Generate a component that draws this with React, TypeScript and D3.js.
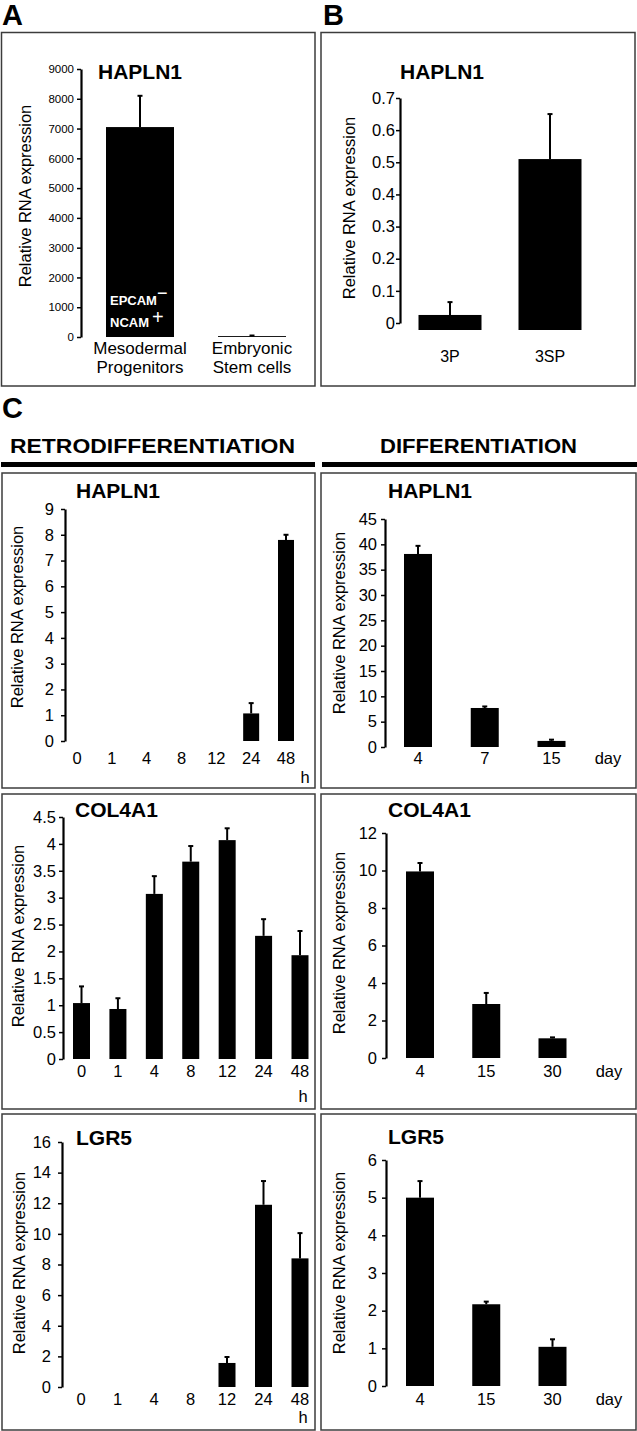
import { useEffect, useRef } from 'react';
import * as d3 from 'd3';

// ---- Panel A: HAPLN1, mesodermal progenitors vs ES cells
const aCategories = ['Mesodermal|Progenitors', 'Embryonic|Stem cells'];
const aValues = [7050, 30];
const aErrors = [1050, 20];
const aTicks = [0, 1000, 2000, 3000, 4000, 5000, 6000, 7000, 8000, 9000];

// ---- Panel B: HAPLN1, 3P vs 3SP
const bCategories = ['3P', '3SP'];
const bValues = [0.025, 0.51];
const bErrors = [0.04, 0.14];
const bTicks = [0, 0.1, 0.2, 0.3, 0.4, 0.5, 0.6, 0.7];

// ---- Panel C: retrodifferentiation (hours)
const retroHours = ['0', '1', '4', '8', '12', '24', '48'];
const retroHapln1 = [0, 0, 0, 0, 0, 1.07, 7.8];
const retroHapln1Err = [0, 0, 0, 0, 0, 0.4, 0.2];
const retroHapln1Ticks = [0, 1, 2, 3, 4, 5, 6, 7, 8, 9];
const retroCol4a1 = [1.04, 0.93, 3.07, 3.67, 4.07, 2.29, 1.93];
const retroCol4a1Err = [0.31, 0.2, 0.33, 0.29, 0.22, 0.31, 0.45];
const retroCol4a1Ticks = [0, 0.5, 1, 1.5, 2, 2.5, 3, 3.5, 4, 4.5];
const retroLgr5 = [0, 0, 0, 0, 1.57, 11.9, 8.4];
const retroLgr5Err = [0, 0, 0, 0, 0.39, 1.55, 1.65];
const retroLgr5Ticks = [0, 2, 4, 6, 8, 10, 12, 14, 16];

// ---- Panel C: differentiation (days)
const diffHapln1Days = ['4', '7', '15'];
const diffHapln1 = [38.1, 7.7, 1.2];
const diffHapln1Err = [1.6, 0.3, 0.25];
const diffHapln1Ticks = [0, 5, 10, 15, 20, 25, 30, 35, 40, 45];
const diffDays = ['4', '15', '30'];
const diffCol4a1 = [9.95, 2.88, 1.05];
const diffCol4a1Err = [0.45, 0.59, 0.05];
const diffCol4a1Ticks = [0, 2, 4, 6, 8, 10, 12];
const diffLgr5 = [5.0, 2.17, 1.04];
const diffLgr5Err = [0.44, 0.07, 0.2];
const diffLgr5Ticks = [0, 1, 2, 3, 4, 5, 6];

const FONT = "'Liberation Sans', Arial, sans-serif";
const YLABEL = 'Relative RNA expression';

const panels = [
  {
    title: 'HAPLN1', categories: aCategories, values: aValues, errors: aErrors, ticks: aTicks,
    box: [1.5, 32.5, 315, 386], axisX: 81, yRange: [337, 69], xRange: [140, 252], bw: 68,
    tickPad: 3, tickFont: 11.5, tickFamily: "'Liberation Sans Narrow', 'Liberation Sans', sans-serif",
    labelY: 354, labelFont: 17, lineH: 18.5, titleX: 98, titleY: 79, ylabX: 25, ylabY: 196, ext: 0,
  },
  {
    title: 'HAPLN1', categories: bCategories, values: bValues, errors: bErrors, ticks: bTicks,
    box: [321, 32.5, 635, 386], axisX: 400, yRange: [323, 98], xRange: [450, 550], bw: 63,
    tickPad: 1, tickFont: 16.5, labelY: 362, labelFont: 16, titleX: 400, titleY: 79, ylabX: 349, ylabY: 208, ext: 7,
  },
  {
    title: 'HAPLN1', categories: retroHours, values: retroHapln1, errors: retroHapln1Err, ticks: retroHapln1Ticks,
    box: [2, 473, 315, 788], axisX: 65, yRange: [741, 509], xRange: [77, 286], bw: 16,
    tickPad: 7, tickFont: 16.5, labelY: 764, labelFont: 16.5, unit: 'h', unitX: 305, unitY: 783,
    titleX: 76, titleY: 498, ylabX: 17, ylabY: 617, ext: 0,
  },
  {
    title: 'COL4A1', categories: retroHours, values: retroCol4a1, errors: retroCol4a1Err, ticks: retroCol4a1Ticks,
    box: [2, 794, 315, 1109], axisX: 63, yRange: [1059, 817], xRange: [81.5, 300], bw: 17,
    tickPad: 3, tickFont: 16.5, labelY: 1077, labelFont: 16.5, unit: 'h', unitX: 303, unitY: 1102,
    titleX: 75, titleY: 817, ylabX: 18, ylabY: 936, ext: 0,
  },
  {
    title: 'LGR5', categories: retroHours, values: retroLgr5, errors: retroLgr5Err, ticks: retroLgr5Ticks,
    box: [2, 1114, 315, 1430], axisX: 62, yRange: [1387, 1142], xRange: [81, 300], bw: 17,
    tickPad: 7, tickFont: 16.5, labelY: 1405, labelFont: 16.5, unit: 'h', unitX: 303, unitY: 1423,
    titleX: 76, titleY: 1145, ylabX: 19, ylabY: 1263, ext: 0,
  },
  {
    title: 'HAPLN1', categories: diffHapln1Days, values: diffHapln1, errors: diffHapln1Err, ticks: diffHapln1Ticks,
    box: [321, 473, 636, 788], axisX: 385, yRange: [747, 519], xRange: [418, 551.5], bw: 28,
    tickPad: 4, tickFont: 16.5, labelY: 764, labelFont: 16.5, unit: 'day', unitX: 608, unitY: 764,
    titleX: 388, titleY: 498, ylabX: 339, ylabY: 623, ext: 0,
  },
  {
    title: 'COL4A1', categories: diffDays, values: diffCol4a1, errors: diffCol4a1Err, ticks: diffCol4a1Ticks,
    box: [321, 794, 636, 1109], axisX: 386, yRange: [1058, 833], xRange: [420, 552.5], bw: 28,
    tickPad: 5, tickFont: 16.5, labelY: 1077, labelFont: 16.5, unit: 'day', unitX: 609, unitY: 1077,
    titleX: 388, titleY: 817, ylabX: 339, ylabY: 943, ext: 0,
  },
  {
    title: 'LGR5', categories: diffDays, values: diffLgr5, errors: diffLgr5Err, ticks: diffLgr5Ticks,
    box: [321, 1114, 636, 1430], axisX: 386, yRange: [1386, 1160], xRange: [420, 552.5], bw: 28,
    tickPad: 5, tickFont: 16.5, labelY: 1405, labelFont: 16.5, unit: 'day', unitX: 609, unitY: 1405,
    titleX: 388, titleY: 1144, ylabX: 339, ylabY: 1263, ext: 0,
  },
];

function drawPanel(root: any, p: any) {
  const g = root.append('g');
  const [bx0, by0, bx1, by1] = p.box;

  // frame
  g.append('rect')
    .attr('x', bx0).attr('y', by0)
    .attr('width', bx1 - bx0).attr('height', by1 - by0)
    .attr('fill', 'none').attr('stroke', '#3c3c3c').attr('stroke-width', 1.5);

  const x = d3.scalePoint<string>().domain(p.categories).range(p.xRange);
  const y = d3.scaleLinear().domain([0, p.ticks[p.ticks.length - 1]]).range(p.yRange);

  // y axis
  const ax = g.append('g')
    .attr('transform', `translate(${p.axisX},0)`)
    .call(d3.axisLeft(y).tickValues(p.ticks).tickSize(4).tickSizeOuter(0)
      .tickPadding(p.tickPad).tickFormat((d: any) => String(d)));
  ax.select('.domain').attr('stroke', '#000').attr('stroke-width', 2.2);
  ax.selectAll('.tick line').attr('stroke', '#000').attr('stroke-width', 1.5);
  ax.selectAll('.tick text')
    .attr('fill', '#000')
    .attr('font-size', p.tickFont)
    .attr('font-family', p.tickFamily || FONT);

  // bars
  const rows = p.categories.map((c: string, i: number) => ({ c, v: p.values[i], e: p.errors[i] }));
  g.selectAll('.bar')
    .data(rows.filter((d: any) => d.v > 0))
    .enter().append('rect')
    .attr('x', (d: any) => x(d.c)! - p.bw / 2)
    .attr('y', (d: any) => y(d.v))
    .attr('width', p.bw)
    .attr('height', (d: any) => y(0) - y(d.v) + p.ext)
    .attr('fill', '#000');

  // error bars
  const errs = rows.filter((d: any) => d.e > 0);
  g.selectAll('.err')
    .data(errs)
    .enter().append('line')
    .attr('x1', (d: any) => x(d.c)!).attr('x2', (d: any) => x(d.c)!)
    .attr('y1', (d: any) => y(d.v)).attr('y2', (d: any) => y(d.v + d.e))
    .attr('stroke', '#000').attr('stroke-width', 2);
  g.selectAll('.cap')
    .data(errs)
    .enter().append('line')
    .attr('x1', (d: any) => x(d.c)! - 2.5).attr('x2', (d: any) => x(d.c)! + 2.5)
    .attr('y1', (d: any) => y(d.v + d.e)).attr('y2', (d: any) => y(d.v + d.e))
    .attr('stroke', '#000').attr('stroke-width', 2);

  // category labels
  const lab = g.selectAll('.lab')
    .data(p.categories)
    .enter().append('text')
    .attr('x', (d: string) => x(d)!)
    .attr('y', p.labelY)
    .attr('text-anchor', 'middle')
    .attr('font-family', FONT)
    .attr('font-size', p.labelFont)
    .attr('fill', '#000');
  lab.each(function (this: any, d: string) {
    const t = d3.select(this);
    d.split('|').forEach((line, i) => {
      t.append('tspan').attr('x', x(d)!).attr('dy', i === 0 ? 0 : p.lineH).text(line);
    });
  });

  if (p.unit) {
    g.append('text')
      .attr('x', p.unitX).attr('y', p.unitY)
      .attr('text-anchor', 'middle')
      .attr('font-family', FONT).attr('font-size', 16.5)
      .text(p.unit);
  }

  // title
  g.append('text')
    .attr('x', p.titleX).attr('y', p.titleY)
    .attr('font-family', FONT).attr('font-size', 21).attr('font-weight', 'bold')
    .text(p.title);

  // y label
  g.append('text')
    .attr('transform', `translate(${p.ylabX},${p.ylabY}) rotate(-90)`)
    .attr('text-anchor', 'middle')
    .attr('dominant-baseline', 'central')
    .attr('font-family', FONT).attr('font-size', 16.5)
    .text(YLABEL);

  return g;
}

const App = () => {
  const svgRef = useRef<SVGSVGElement>(null);

  useEffect(() => {
    document.body.style.margin = '0';
    const svg = d3.select(svgRef.current);
    svg.selectAll('*').remove();

    svg.append('rect').attr('width', 637).attr('height', 1431).attr('fill', '#fff');

    // panel letters
    [['A', 2, 25], ['B', 323, 25], ['C', 2, 418]].forEach(([t, lx, ly]) => {
      svg.append('text')
        .attr('x', lx as number).attr('y', ly as number)
        .attr('font-family', FONT).attr('font-size', 29).attr('font-weight', 'bold')
        .text(t as string);
    });

    panels.forEach((p) => drawPanel(svg, p));

    // EPCAM- / NCAM+ annotation inside the bar of panel A
    const note = svg.append('g').attr('fill', '#fff').attr('font-family', FONT).attr('font-weight', 'bold');
    note.append('text').attr('x', 110).attr('y', 305).attr('font-size', 13).text('EPCAM');
    note.append('text').attr('x', 157).attr('y', 299).attr('font-size', 18).attr('font-weight', 'normal').text('\u2212');
    note.append('text').attr('x', 110).attr('y', 327).attr('font-size', 13).text('NCAM');
    note.append('text').attr('x', 152).attr('y', 324).attr('font-size', 20).attr('font-weight', 'normal').text('+');

    // section headers for panel C
    svg.append('text')
      .attr('x', 10).attr('y', 453)
      .attr('font-family', FONT).attr('font-size', 21).attr('font-weight', 'bold')
      .attr('textLength', 285).attr('lengthAdjust', 'spacingAndGlyphs')
      .text('RETRODIFFERENTIATION');
    svg.append('text')
      .attr('x', 380).attr('y', 453)
      .attr('font-family', FONT).attr('font-size', 21).attr('font-weight', 'bold')
      .attr('textLength', 197).attr('lengthAdjust', 'spacingAndGlyphs')
      .text('DIFFERENTIATION');
    svg.append('rect').attr('x', 1).attr('y', 462).attr('width', 314).attr('height', 5).attr('fill', '#000');
    svg.append('rect').attr('x', 322).attr('y', 462).attr('width', 315).attr('height', 5).attr('fill', '#000');
  }, []);

  return <svg ref={svgRef} width={637} height={1431} style={{ display: 'block' }} />;
};

export default App;
